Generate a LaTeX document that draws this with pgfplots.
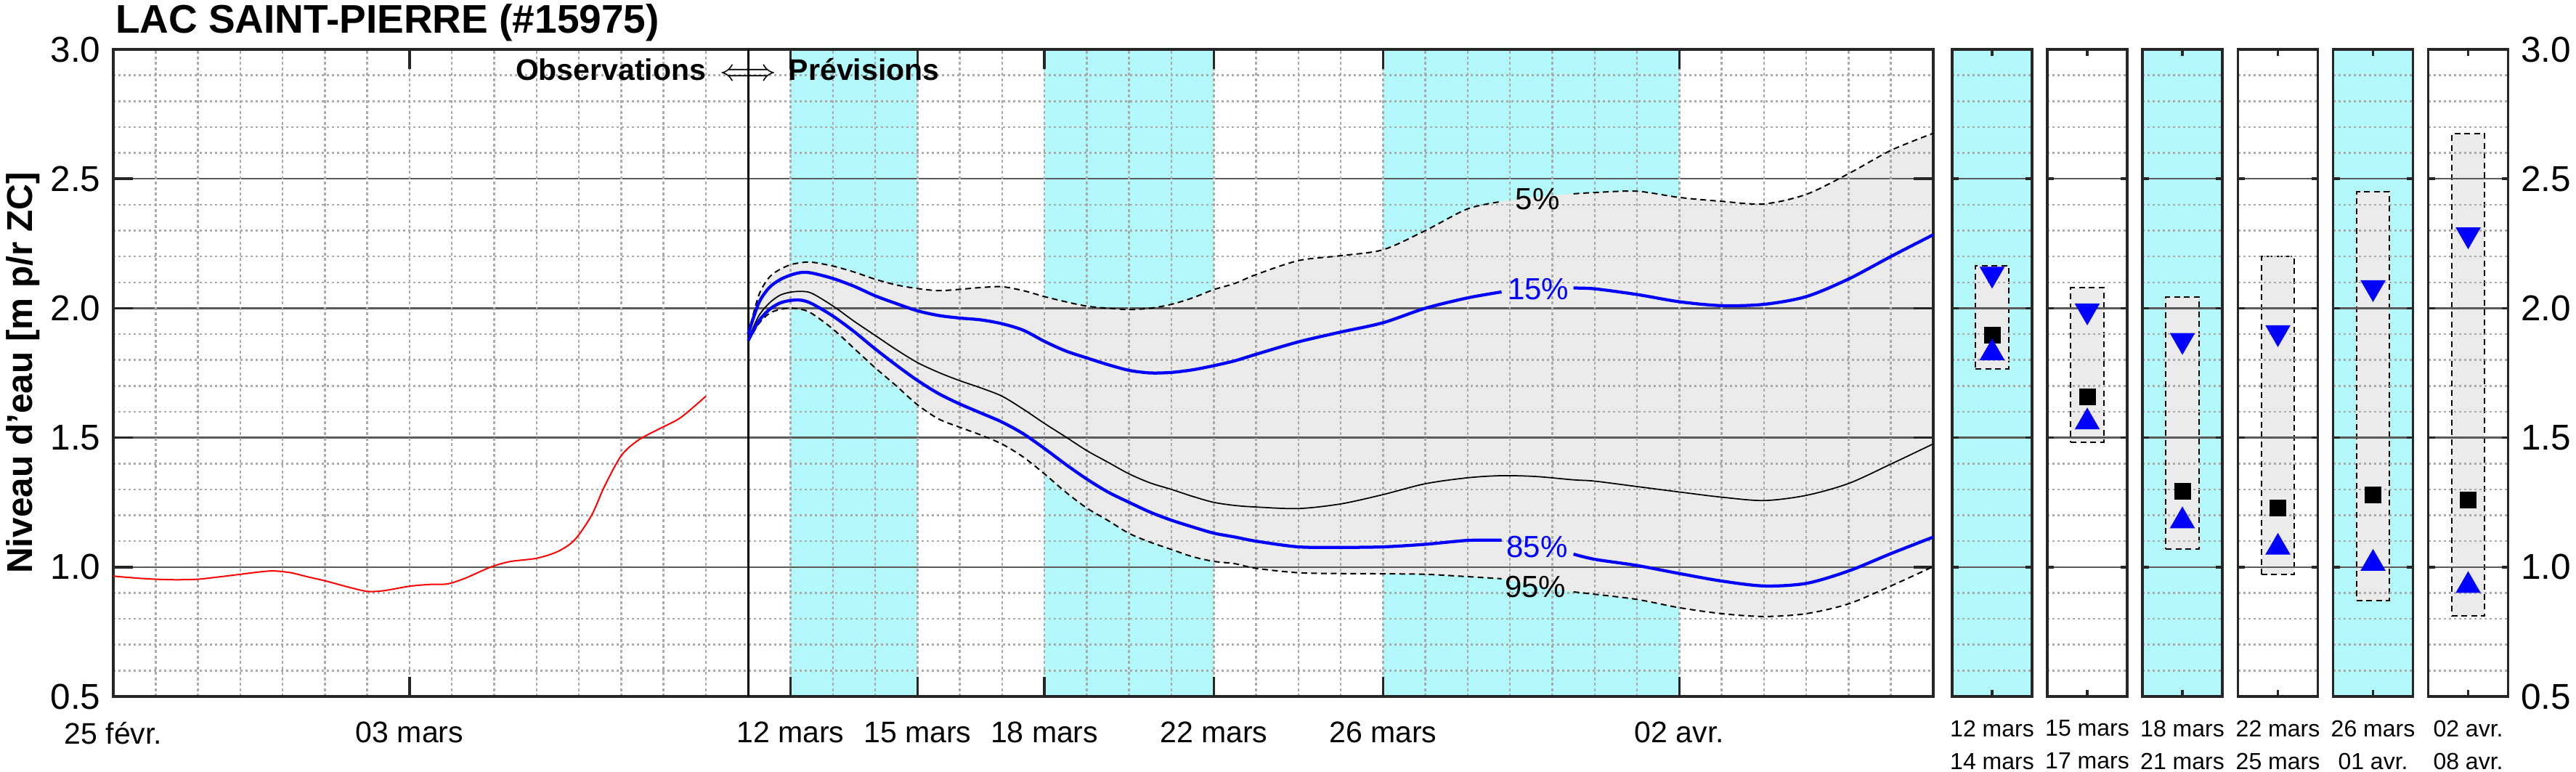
\documentclass[border=0pt]{standalone}
\usepackage{fontspec}
\setmainfont{Liberation Sans}
\usepackage{pgfplots}
\pgfplotsset{compat=1.18}
\usepackage{pgfplotstable}
\usepgfplotslibrary{fillbetween}
\tikzset{fill between/on layer=axis background}
\tikzset{pct/.style={font=\fontsize{8.4}{10}\selectfont, inner sep=0}}

\definecolor{cyanband}{RGB}{179,248,250}
\definecolor{bandgray}{RGB}{235,235,235}
\definecolor{majgrid}{RGB}{90,90,90}
\definecolor{mingrid}{RGB}{170,170,170}
\definecolor{framec}{RGB}{38,38,38}

\pgfplotstableread{
day p5 p15 med p85 p95
15 1.90 1.90 1.88 1.875 1.87
15.25 2.05 2.02 1.97 1.95 1.94
15.5 2.12 2.08 2.02 1.995 1.98
15.75 2.15 2.11 2.05 2.02 1.995
16 2.168 2.128 2.062 2.03 2.0
16.25 2.176 2.138 2.065 2.031 1.996
16.5 2.178 2.136 2.058 2.018 1.98
17 2.163 2.115 2.009 1.97 1.92
17.5 2.14 2.085 1.95 1.91 1.845
18 2.112 2.048 1.895 1.843 1.77
18.5 2.09 2.018 1.84 1.78 1.70
19 2.076 1.99 1.79 1.721 1.627
19.5 2.068 1.972 1.752 1.67 1.572
20 2.073 1.962 1.72 1.63 1.54
20.5 2.08 1.955 1.692 1.595 1.51
21 2.083 1.94 1.66 1.56 1.475
21.5 2.068 1.915 1.61 1.515 1.425
22 2.045 1.872 1.555 1.458 1.36
22.5 2.025 1.835 1.503 1.397 1.29
23 2.008 1.808 1.45 1.34 1.228
23.5 2.0 1.782 1.405 1.29 1.18
24 1.995 1.76 1.36 1.25 1.13
24.5 2.0 1.75 1.325 1.212 1.096
25 2.015 1.752 1.30 1.181 1.068
25.5 2.04 1.762 1.273 1.155 1.04
26 2.072 1.778 1.25 1.131 1.022
26.5 2.096 1.797 1.238 1.116 1.013
27 2.13 1.822 1.232 1.10 0.995
28 2.184 1.87 1.226 1.078 0.978
29 2.203 1.908 1.244 1.076 0.975
30 2.226 1.944 1.28 1.078 0.974
31 2.30 2.0 1.322 1.088 0.972
32 2.384 2.04 1.345 1.103 0.963
32.8 2.412 2.063 1.353 1.104 0.955
33.6 2.43 2.07 1.35 1.08 0.93
34.5 2.442 2.078 1.337 1.05 0.904
35 2.447 2.075 1.332 1.03 0.895
36 2.452 2.053 1.311 1.006 0.875
37 2.428 2.025 1.29 0.975 0.843
38 2.413 2.01 1.27 0.946 0.82
39 2.403 2.015 1.257 0.927 0.809
40 2.44 2.045 1.277 0.937 0.82
41 2.52 2.113 1.323 0.985 0.858
42 2.61 2.2 1.398 1.052 0.927
43 2.676 2.284 1.476 1.116 1.002
}\fc

\pgfplotsset{
  common/.style={
    scale only axis, anchor=south west, height=178.2pt,
    ymin=0.5, ymax=3, set layers,
    axis line style={draw=framec, line width=0.7pt},
    ytick={0.5,1,...,3},
    minor ytick={0.6,0.7,0.8,0.9,1.1,1.2,1.3,1.4,1.6,1.7,1.8,1.9,2.1,2.2,2.3,2.4,2.6,2.7,2.8,2.9},
    ymajorgrids, yminorgrids,
    major grid style={draw=majgrid, line width=0.5pt},
    minor grid style={draw=mingrid, line width=0.5pt, dash pattern=on 0.6pt off 0.8pt},
    tick pos=both, tick align=inside, minor tick length=0pt,
    tick style={draw=framec, line width=0.7pt},
    xticklabel pos=lower,
    yticklabel style={font=\fontsize{9.9}{12}\selectfont},
    /pgf/number format/fixed, /pgf/number format/fixed zerofill,
    /pgf/number format/precision=1, /pgf/number format/assume math mode=true,
  },
  panel/.style={common, width=22pt, xmin=0, xmax=1, xtick={0.5},
    major tick length=1.8pt,
    xticklabel style={align=center, font=\fontsize{6.4}{9}\selectfont, yshift=-3pt}},
  nolab/.style={yticklabels={}},
  cyanbg/.style={axis background/.style={fill=cyanband}},
  boxst/.style={fill=bandgray, draw=black, dash pattern=on 1.6pt off 1.1pt, line width=0.4pt, on layer=axis background},
  med/.style={only marks, mark=square*, mark size=2.1pt, black},
  lowm/.style={only marks, mark=triangle*, mark size=3.6pt, blue},
  highm/.style={only marks, mark=triangle*, mark size=3.6pt, blue, mark options={rotate=180}},
  dsh/.style={black, line width=0.4pt, dash pattern=on 1.6pt off 1.1pt, smooth, tension=0.5},
  bl/.style={blue, line width=0.85pt, smooth, tension=0.5},
}

\begin{document}
\begin{tikzpicture}

\node[anchor=base west, inner sep=0, font=\bfseries\fontsize{11}{13}\selectfont] at (31.6pt,203.4pt) {LAC SAINT-PIERRE (\#15975)};
\node[rotate=90, anchor=base, inner sep=0, font=\bfseries\fontsize{9.9}{12}\selectfont] at (9pt,109.7pt) {Niveau d'eau [m p/r ZC]};

\begin{axis}[common, at={(31.2pt,20.6pt)}, width=501.2pt,
  xmin=0, xmax=43,
  major tick length=5.4pt,
  xtick={0,7,16,19,22,26,30,37},
  xticklabels={25 févr., 03 mars, 12 mars, 15 mars, 18 mars, 22 mars, 26 mars, 02 avr.},
  xticklabel style={font=\fontsize{8.2}{10}\selectfont, yshift=-3.5pt},
  extra x ticks={1,2,...,42},
  extra x tick labels={},
  extra x tick style={major tick length=0pt, grid=major,
     major grid style={draw=mingrid, line width=0.5pt, dash pattern=on 0.8pt off 0.7pt}},
]
% weekly bands
\addplot[fill=cyanband, draw=none, on layer=axis background] coordinates {(16,0.5) (19,0.5) (19,3) (16,3)};
\addplot[fill=cyanband, draw=none, on layer=axis background] coordinates {(22,0.5) (26,0.5) (26,3) (22,3)};
\addplot[fill=cyanband, draw=none, on layer=axis background] coordinates {(30,0.5) (37,0.5) (37,3) (30,3)};
% forecast band
\addplot[draw=none, name path=hi] table[x=day,y=p5]{\fc};
\addplot[draw=none, name path=lo] table[x=day,y=p95]{\fc};
\addplot[fill=bandgray, draw=none] fill between[of=hi and lo];
% divider
\addplot[black, line width=0.6pt] coordinates {(15,0.5) (15,3)};
% observations
\addplot[red, line width=0.4pt, smooth] coordinates {
(0,0.965) (0.5,0.958) (1,0.953) (1.5,0.951) (2,0.953) (2.5,0.962) (3,0.972) (3.5,0.982)
(3.8,0.985) (4.2,0.978) (4.6,0.962) (5,0.947) (5.5,0.925) (6,0.906) (6.4,0.909) (7,0.926)
(7.5,0.933) (7.9,0.935) (8.3,0.956) (8.7,0.985) (9,1.005) (9.4,1.022) (10,1.034) (10.5,1.06)
(10.9,1.105) (11.3,1.2) (11.6,1.31) (12,1.43) (12.4,1.49) (12.9,1.534) (13.4,1.577) (14,1.66)};
% forecast lines
\addplot[dsh, restrict x to domain=15:32.85] table[x=day,y=p5]{\fc};
\addplot[dsh, restrict x to domain=34.45:43] table[x=day,y=p5]{\fc};
\addplot[dsh, restrict x to domain=15:32.85] table[x=day,y=p95]{\fc};
\addplot[dsh, restrict x to domain=34.45:43] table[x=day,y=p95]{\fc};
\addplot[black, line width=0.35pt, smooth, tension=0.5] table[x=day,y=med]{\fc};
\addplot[bl, restrict x to domain=15:32.85] table[x=day,y=p15]{\fc};
\addplot[bl, restrict x to domain=34.45:43] table[x=day,y=p15]{\fc};
\addplot[bl, restrict x to domain=15:32.85] table[x=day,y=p85]{\fc};
\addplot[bl, restrict x to domain=34.45:43] table[x=day,y=p85]{\fc};
% labels
\node[pct] at (axis cs:33.65,2.422) {5\%};
\node[pct, text=blue] at (axis cs:33.67,2.074) {15\%};
\node[pct, text=blue] at (axis cs:33.64,1.078) {85\%};
\node[pct] at (axis cs:33.6,0.924) {95\%};
\node[anchor=base east, inner sep=0, font=\bfseries\fontsize{8.2}{10}\selectfont] at (axis cs:14.02,2.882) {Observations};
\node[anchor=base, inner sep=0, font=\fontsize{8.2}{10}\selectfont] at (axis cs:15,2.882) {$\Longleftrightarrow$};
\node[anchor=base west, inner sep=0, font=\bfseries\fontsize{8.2}{10}\selectfont] at (axis cs:15.94,2.882) {Prévisions};
\end{axis}

% weekly panels
\begin{axis}[panel, cyanbg, nolab, at={(537.6pt,20.6pt)}, xticklabels={{12 mars\\14 mars}}]
\addplot[boxst] coordinates {(0.295,1.766) (0.705,1.766) (0.705,2.164) (0.295,2.164) (0.295,1.766)};
\addplot[med] coordinates {(0.5,1.897)};
\addplot[lowm] coordinates {(0.5,1.827)};
\addplot[highm] coordinates {(0.5,2.132)};
\end{axis}
\begin{axis}[panel, nolab, at={(563.8pt,20.6pt)}, xticklabels={{15 mars\\17 mars}}]
\addplot[boxst] coordinates {(0.295,1.483) (0.705,1.483) (0.705,2.079) (0.295,2.079) (0.295,1.483)};
\addplot[med] coordinates {(0.5,1.657)};
\addplot[lowm] coordinates {(0.5,1.56)};
\addplot[highm] coordinates {(0.5,1.99)};
\end{axis}
\begin{axis}[panel, cyanbg, nolab, at={(590.0pt,20.6pt)}, xticklabels={{18 mars\\21 mars}}]
\addplot[boxst] coordinates {(0.295,1.069) (0.705,1.069) (0.705,2.044) (0.295,2.044) (0.295,1.069)};
\addplot[med] coordinates {(0.5,1.294)};
\addplot[lowm] coordinates {(0.5,1.178)};
\addplot[highm] coordinates {(0.5,1.876)};
\end{axis}
\begin{axis}[panel, nolab, at={(616.3pt,20.6pt)}, xticklabels={{22 mars\\25 mars}}]
\addplot[boxst] coordinates {(0.295,0.971) (0.705,0.971) (0.705,2.2) (0.295,2.2) (0.295,0.971)};
\addplot[med] coordinates {(0.5,1.229)};
\addplot[lowm] coordinates {(0.5,1.076)};
\addplot[highm] coordinates {(0.5,1.906)};
\end{axis}
\begin{axis}[panel, cyanbg, nolab, at={(642.5pt,20.6pt)}, xticklabels={{26 mars\\01 avr.}}]
\addplot[boxst] coordinates {(0.295,0.871) (0.705,0.871) (0.705,2.449) (0.295,2.449) (0.295,0.871)};
\addplot[med] coordinates {(0.5,1.28)};
\addplot[lowm] coordinates {(0.5,1.014)};
\addplot[highm] coordinates {(0.5,2.08)};
\end{axis}
\begin{axis}[panel, at={(668.7pt,20.6pt)}, yticklabel pos=right, xticklabels={{02 avr.\\08 avr.}}]
\addplot[boxst] coordinates {(0.295,0.811) (0.705,0.811) (0.705,2.674) (0.295,2.674) (0.295,0.811)};
\addplot[med] coordinates {(0.5,1.259)};
\addplot[lowm] coordinates {(0.5,0.928)};
\addplot[highm] coordinates {(0.5,2.284)};
\end{axis}
\pgfresetboundingbox
\path[use as bounding box] (0,0) rectangle (709.4pt,212.4pt);
\end{tikzpicture}
\end{document}
